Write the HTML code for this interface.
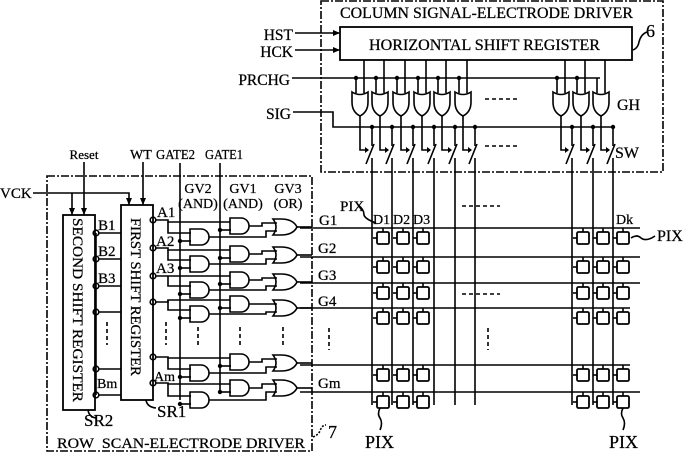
<!DOCTYPE html>
<html><head><meta charset="utf-8"><style>
html,body{margin:0;padding:0;background:#fff;}
svg{display:block;}
text{font-family:"Liberation Serif",serif;fill:#000;stroke:#000;stroke-width:0.25;}
</style></head><body>
<svg id="s" width="688" height="453" viewBox="0 0 688 453" xmlns="http://www.w3.org/2000/svg" stroke="#000" fill="none" stroke-width="1.6">
<defs><marker id="ar" markerWidth="8" markerHeight="8" refX="7" refY="4" orient="auto" markerUnits="userSpaceOnUse"><path d="M0,1 L7,4 L0,7 z" fill="#000" stroke="none"/></marker></defs>
<rect x="321" y="1" width="342" height="171" stroke-dasharray="8,2,2,2"/>
<rect x="340" y="27" width="292" height="33" stroke-width="1.8"/>
<g font-size="15">
<text x="340" y="18" textLength="293" lengthAdjust="spacingAndGlyphs" font-size="16">COLUMN SIGNAL-ELECTRODE DRIVER</text>
<text x="369" y="50" textLength="231" lengthAdjust="spacingAndGlyphs" font-size="16">HORIZONTAL SHIFT REGISTER</text>
<text x="646" y="37" font-size="18">6</text>
<text x="293" y="40" text-anchor="end" font-size="15.5">HST</text>
<text x="293" y="57" text-anchor="end" font-size="15.5">HCK</text>
<text x="290" y="85" text-anchor="end" font-size="15.5">PRCHG</text>
<text x="291" y="119" text-anchor="end" font-size="15.5">SIG</text>
<text x="617" y="110" font-size="16">GH</text>
<text x="615" y="158" font-size="16">SW</text>
<text x="84" y="159" text-anchor="middle" font-size="13">Reset</text>
<text x="130" y="159" font-size="14">WT</text>
<text x="156" y="159" textLength="39" lengthAdjust="spacingAndGlyphs" font-size="14">GATE2</text>
<text x="205" y="159" textLength="38" lengthAdjust="spacingAndGlyphs" font-size="14">GATE1</text>
<text x="0" y="198" font-size="15">VCK</text>
<text x="198" y="193" text-anchor="middle" font-size="14">GV2</text>
<text x="198" y="208" text-anchor="middle" font-size="14">(AND)</text>
<text x="243" y="193" text-anchor="middle" font-size="14">GV1</text>
<text x="243" y="208" text-anchor="middle" font-size="14">(AND)</text>
<text x="288" y="193" text-anchor="middle" font-size="14">GV3</text>
<text x="288" y="208" text-anchor="middle" font-size="14">(OR)</text>
<text x="157" y="217" font-size="15">A1</text>
<text x="156" y="246" font-size="15">A2</text>
<text x="156" y="273" font-size="15">A3</text>
<text x="154" y="381" font-size="14">Am</text>
<text x="98" y="230" font-size="15">B1</text>
<text x="98" y="256" font-size="15">B2</text>
<text x="98" y="283" font-size="15">B3</text>
<text x="97" y="388" font-size="14">Bm</text>
<text x="319" y="225" font-size="15">G1</text>
<text x="318" y="253" font-size="15">G2</text>
<text x="318" y="280" font-size="15">G3</text>
<text x="318" y="306" font-size="15">G4</text>
<text x="318" y="388" font-size="15">Gm</text>
<text x="373" y="224" font-size="14">D1</text>
<text x="393" y="224" font-size="14">D2</text>
<text x="413" y="224" font-size="14">D3</text>
<text x="616" y="224" font-size="14">Dk</text>
<text x="340" y="211" font-size="15">PIX</text>
<text x="657" y="241" font-size="16">PIX</text>
<text x="365" y="448" font-size="18">PIX</text>
<text x="609" y="448" font-size="18">PIX</text>
<text x="84" y="426" font-size="17">SR2</text>
<text x="157" y="417" font-size="17">SR1</text>
<text x="57" y="448" textLength="248" lengthAdjust="spacingAndGlyphs" font-size="15">ROW&#160;&#160;SCAN-ELECTRODE DRIVER</text>
<text x="328" y="438" font-size="18">7</text>
<text transform="translate(73,218) rotate(90)" textLength="184" lengthAdjust="spacingAndGlyphs" font-size="15">SECOND SHIFT REGISTER</text>
<text transform="translate(131,218) rotate(90)" textLength="158" lengthAdjust="spacingAndGlyphs" font-size="15">FIRST SHIFT REGISTER</text>
</g>
<g id="g"></g>
<path d="M47,176 H312 V451 H47 Z" stroke-dasharray="8,2,2,2"/>
<rect x="63" y="215" width="32" height="195" stroke-width="1.8"/>
<rect x="121" y="205" width="32" height="195" stroke-width="1.8"/>
<path d="M295,33 H340" marker-end="url(#ar)"/>
<path d="M295,50 H340" marker-end="url(#ar)"/>
<path d="M292,78 H600"/>
<path d="M293,112 H333 V127 H615"/>
<path d="M33,193 H129 V205" marker-end="url(#ar)"/>
<path d="M72,193 V215" marker-end="url(#ar)"/>
<path d="M84,162 V215" marker-end="url(#ar)"/>
<path d="M143,162 V205" marker-end="url(#ar)"/>
<path d="M180,163 V400"/>
<path d="M220,163 V390"/>
<path d="M633,50 q5,-2 6,-8 q2,-8 8,-10" />
<path d="M313,437 q5,-2 7,-6 q2,-6 6,-6" stroke-dasharray="2,1.5"/>
<path d="M88,410 q1,7 8,8"/>
<path d="M146,400 q1,7 10,8"/>
<path d="M358,205 q6,4 6,10 q1,4 12,8"/>
<path d="M631,238 q6,-4 10,0 q5,4 14,-2"/>
<path d="M380,408 q-3,6 0,10 q3,5 0,12"/>
<path d="M623,408 q-3,6 0,10 q3,5 0,12"/>
<g stroke-dasharray="4,3">
<path d="M485,99 H520"/><path d="M485,146 H520"/><path d="M462,206 H500"/>
<path d="M462,294 H500"/><path d="M488,328 V350"/><path d="M329,328 V350"/>
<path d="M107,322 V345"/><path d="M166,322 V345"/><path d="M198,327 V347"/>
<path d="M240,327 V347"/><path d="M283,327 V347"/>
</g>
</svg>
<script>
var g=document.getElementById('g'),h='';
function P(d){h+='<path d="'+d+'"/>';}
function dot(x,y){h+='<circle cx="'+x+'" cy="'+y+'" r="2.2" fill="#000" stroke="none"/>';}
function oc(x,y){h+='<circle cx="'+x+'" cy="'+y+'" r="2.8" fill="#fff"/>';}
function AND(x,y){P('M'+x+','+(y-8)+' h11 a8,8 0 0 1 0,16 h-11 z');}
function OR(x,y){P('M'+x+','+(y-8)+' q6,8 0,16 h8 q12,0 16,-8 q-4,-8 -16,-8 z');}
var gx=[360,380,401,422,442,463,561,581,601],dx=[372,392,413,434,455,475,572,593,613];
gx.forEach(function(c,i){
 P('M'+(c-8)+',92 q8,5 16,0 v10 q0,10 -8,14 q-8,-4 -8,-14 z');
 P('M'+(c+4)+',60 V93');P('M'+(c-4)+',78 V93');
 if(i<8)dot(c-4,78);
 P('M'+c+',116 V150 H'+(dx[i]-4));
 h+='<path d="M'+(dx[i]-7)+',147 L'+(dx[i]-3)+',150 L'+(dx[i]-7)+',153 z" fill="#000" stroke="none"/>';
 P('M'+(dx[i]-6)+',164 L'+(dx[i]+2)+',144');
 P('M'+dx[i]+',127 V146');dot(dx[i],127);
 P('M'+dx[i]+',158 V405');
});
[228,257,283,308,365,392].forEach(function(y){P('M300,'+y+' H'+(y==308||y==365?630:640));});
[[373,393,413],[573,593,613]].forEach(function(a){a.forEach(function(x){
 [228,257,283,308,365,392].forEach(function(y){
  h+='<rect x="'+(x+4)+'" y="'+(y+4)+'" width="12" height="12" rx="1.5" stroke-width="1.8"/>';
  P('M'+(x+10)+','+y+' V'+(y+4));P('M'+x+','+(y+10)+' H'+(x+4));
 });});});
var bo=[233,259,286,312,369,395];
bo.forEach(function(y){P('M96,'+y+' H121');oc(96,y);});
P('M96,233 V395');
var ao=[220,248,276,302,357,383];
var g1=[226,254,280,304,362,388],g2=[237,264,290,314,373,400],g3=[227,255,282,308,363,388];
for(var i=0;i<6;i++){
 AND(230,g1[i]);AND(190,g2[i]);OR(273,g3[i]);
 P('M155,'+ao[i]+' H168 V'+(g1[i]-4)+' H230');
 P('M168,'+(g1[i]-4)+' V'+(g2[i]-4)+' H191');
 P('M180,'+(g2[i]+4)+' H191');dot(180,g2[i]+4);
 P('M220,'+(g1[i]+4)+' H231');dot(220,g1[i]+4);
 P('M249,'+g1[i]+' H262 V'+(g3[i]-4)+' H277');
 P('M209,'+g2[i]+' H266 V'+(g3[i]+4)+' H277');
 P('M297,'+g3[i]+' H312');
 oc(153,ao[i]);
}
g.innerHTML=h;
</script>
</body></html>
